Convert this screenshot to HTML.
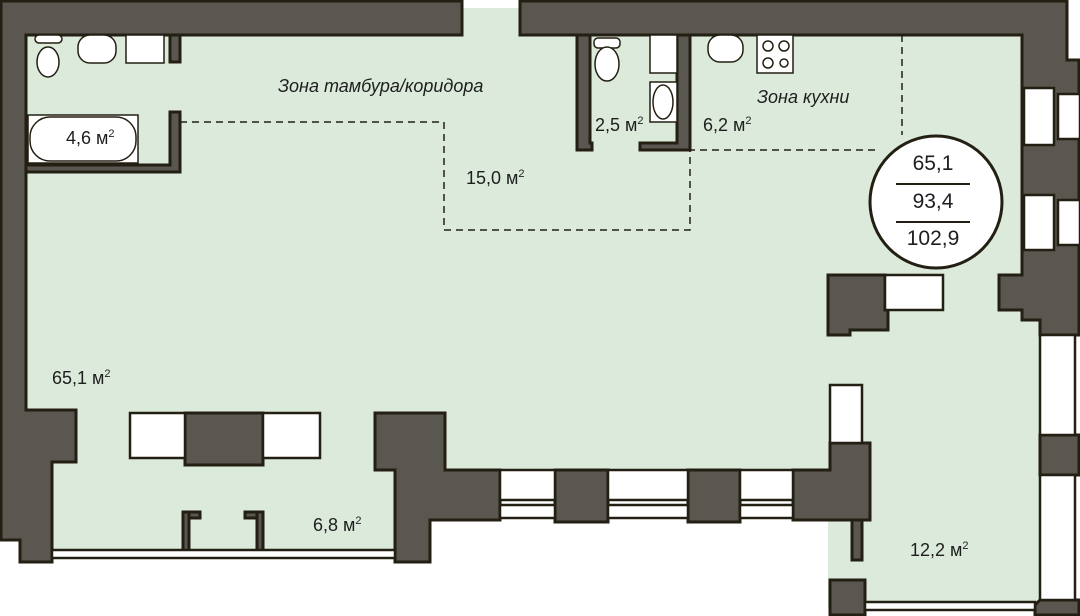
<!DOCTYPE html>
<html><head><meta charset="utf-8"><style>
html,body{margin:0;padding:0;background:#fff}
svg{display:block}
text{font-family:"Liberation Sans",sans-serif;fill:#1e1e1e}
</style></head><body>
<svg width="1080" height="616" viewBox="0 0 1080 616" xmlns="http://www.w3.org/2000/svg">
<g fill="#dbeadb">
<rect x="26" y="35" width="1000" height="440"/>
<rect x="462" y="8" width="58" height="30"/>
<rect x="52" y="460" width="345" height="95"/>
<rect x="828" y="460" width="212" height="148"/>
<rect x="1020" y="300" width="20" height="300"/>
</g>
<g fill="#5a5650" stroke="#231f12" stroke-width="3">
<path d="M1,1 H462 V35 H26 V410 H76 V462 H52 V562 H20 V540 H1 Z"/>
<path d="M520,1 H1067 V60 H1079 V335 H1040 V320 H1022 V310 H999 V275 H1022 V35 H520 Z"/>
<rect x="1040" y="435" width="39" height="40"/>
<path d="M1040,600 H1079 V615 H1035 V605 Z"/>
<rect x="170" y="35" width="10" height="27"/>
<path d="M170,112 H180 V172 H26 V165 H170 Z"/>
<path d="M577,35 H590 V143 H592 V150 H577 Z"/>
<path d="M677,35 H690 V150 H640 V143 H677 Z"/>
<rect x="185" y="413" width="78" height="52"/>
<path d="M828,275 H885 V310 H888 V330 H850 V335 H828 Z"/>
<path d="M375,413 H445 V470 H500 V520 H430 V562 H395 V470 H375 Z"/>
<rect x="555" y="470" width="53" height="52"/>
<rect x="688" y="470" width="52" height="52"/>
<path d="M793,470 H830 V443 H870 V520 H793 Z"/>
<path d="M830,520 H862 V560 H852 V520 Z"/>
<path d="M830,580 H865 V615 H830 Z"/>
<rect x="183" y="512" width="17" height="6"/>
<rect x="183" y="512" width="6" height="44"/>
<rect x="245" y="512" width="18" height="6"/>
<rect x="257" y="512" width="6" height="44"/>
</g>
<g fill="#fff" stroke="#231f12" stroke-width="2.5">
<rect x="130" y="413" width="55" height="45"/>
<rect x="263" y="413" width="57" height="45"/>
<rect x="885" y="275" width="58" height="35"/>
<rect x="830" y="385" width="32" height="58"/>
<rect x="500" y="470" width="55" height="30"/>
<rect x="608" y="470" width="80" height="30"/>
<rect x="740" y="470" width="53" height="30"/>
<rect x="500" y="505" width="55" height="13"/>
<rect x="608" y="505" width="80" height="13"/>
<rect x="740" y="505" width="53" height="13"/>
<rect x="1024" y="88" width="30" height="57"/>
<rect x="1058" y="94" width="22" height="45"/>
<rect x="1024" y="195" width="30" height="55"/>
<rect x="1058" y="200" width="22" height="45"/>
<rect x="1040" y="335" width="35" height="100"/>
<rect x="1040" y="475" width="35" height="125"/>
<rect x="52" y="550" width="343" height="8"/>
<rect x="865" y="602" width="170" height="8"/>
</g>
<g fill="#fff" stroke="#231f12" stroke-width="1.5">
<rect x="35" y="35" width="27" height="8" rx="4"/>
<ellipse cx="48" cy="62" rx="11" ry="15"/>
<rect x="78" y="35" width="38" height="28" rx="12"/>
<rect x="126" y="35" width="38" height="28"/>
<rect x="28" y="115" width="110" height="48"/>
<rect x="30" y="117" width="106" height="44" rx="20"/>
<rect x="594" y="38" width="26" height="10" rx="4"/>
<ellipse cx="607" cy="64" rx="12" ry="17"/>
<rect x="650" y="35" width="27" height="38"/>
<rect x="650" y="82" width="27" height="40"/>
<ellipse cx="663" cy="102" rx="10" ry="17"/>
<rect x="708" y="35" width="35" height="27" rx="12"/>
<rect x="757" y="35" width="36" height="38"/>
<circle cx="768" cy="46" r="5"/><circle cx="784" cy="46" r="5"/>
<circle cx="768" cy="63" r="5"/><circle cx="784" cy="63" r="4"/>
</g>
<g fill="none" stroke="#231f12" stroke-width="1.5" stroke-dasharray="7,5">
<path d="M180,122 H444 V230 H690 V150 H880"/>
<path d="M902,35 V135"/>
</g>
<circle cx="936" cy="202" r="66" fill="#fff" stroke="#231f12" stroke-width="3"/>
<g stroke="#231f12" stroke-width="2"><line x1="896" y1="184" x2="970" y2="184"/><line x1="896" y1="222" x2="970" y2="222"/></g>
<g font-size="21" text-anchor="middle">
<text x="933" y="170">65,1</text>
<text x="933" y="208">93,4</text>
<text x="933" y="245">102,9</text>
</g>
<g font-size="18" font-style="italic">
<text x="278" y="92">Зона тамбура/коридора</text>
<text x="757" y="103">Зона кухни</text>
</g>
<g font-size="18">
<text x="66" y="144">4,6 м<tspan font-size="11" dy="-7">2</tspan></text>
<text x="466" y="184">15,0 м<tspan font-size="11" dy="-7">2</tspan></text>
<text x="595" y="131">2,5 м<tspan font-size="11" dy="-7">2</tspan></text>
<text x="703" y="131">6,2 м<tspan font-size="11" dy="-7">2</tspan></text>
<text x="52" y="384">65,1 м<tspan font-size="11" dy="-7">2</tspan></text>
<text x="313" y="531">6,8 м<tspan font-size="11" dy="-7">2</tspan></text>
<text x="910" y="556">12,2 м<tspan font-size="11" dy="-7">2</tspan></text>
</g>
</svg>
</body></html>
